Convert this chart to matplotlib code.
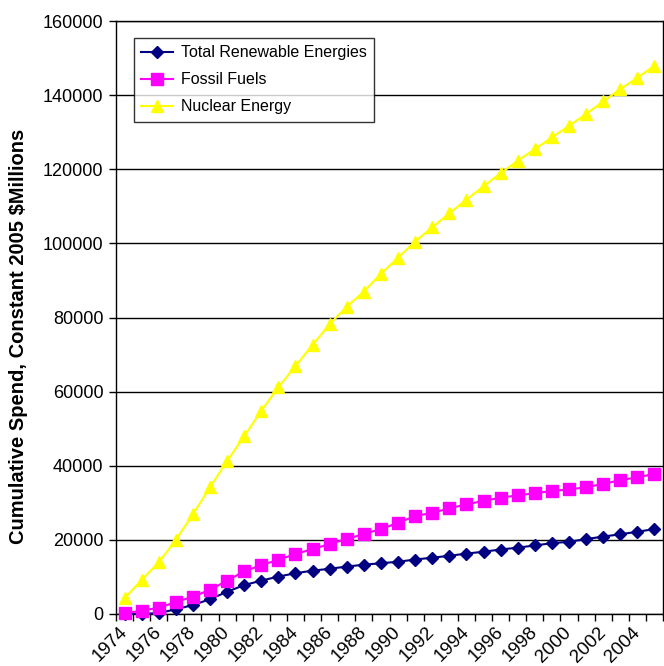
import matplotlib
matplotlib.use('Agg')
import matplotlib.pyplot as plt
import matplotlib.transforms as mtransforms
import numpy as np

plt.rcParams['font.family'] = ['Liberation Sans', 'DejaVu Sans']

years = list(range(1974, 2006))

# cumulative spend, constant 2005 $ millions
renewables = [0, 100, 200, 1300, 2400, 4000, 6000, 7800, 9000, 10100,
              11000, 11700, 12200, 12800, 13300, 13700, 14100, 14700, 15200, 15700,
              16300, 16800, 17400, 17900, 18500, 19100, 19500, 20200, 20900, 21500,
              22200, 22900]
fossil = [200, 900, 1700, 3200, 4700, 6500, 9000, 11500, 13200, 14600,
          16200, 17500, 18900, 20200, 21600, 22900, 24600, 26400, 27300, 28500,
          29600, 30500, 31400, 32000, 32600, 33200, 33600, 34200, 35100, 36100,
          36900, 37800]
nuclear = [4200, 9200, 13900, 20000, 26900, 34200, 41300, 48000, 54800, 61200,
           66900, 72600, 78200, 82900, 87000, 91800, 96100, 100500, 104300, 108100,
           111800, 115400, 118900, 122300, 125400, 128600, 131700, 134900, 138300, 141600,
           144700, 147900]

y_ticks = list(range(0, 160001, 20000))

fig = plt.figure(figsize=(6.64, 6.66), dpi=100)
ax = fig.add_axes([116 / 664, 52 / 666, 547 / 664, 593 / 666])

x = np.arange(len(years))
ax.plot(x, renewables, color='#000080', marker='D', markersize=6.5, lw=1.5,
        label='Total Renewable Energies', clip_on=False, zorder=3)
ax.plot(x, fossil, color='#FF00FF', marker='s', markersize=8, lw=1.5,
        label='Fossil Fuels', clip_on=False, zorder=3)
ax.plot(x, nuclear, color='#FFFF00', marker='^', markersize=8.5, lw=1.5,
        label='Nuclear Energy', clip_on=False, zorder=3)

ax.set_xlim(-0.5, len(years) - 0.5)
ax.set_ylim(0, 160000)
ax.set_yticks(y_ticks)
ax.set_yticklabels([str(v) for v in y_ticks], fontsize=13)
ax.yaxis.grid(True, color='black', lw=1)
ax.set_axisbelow(True)

ax.set_xticks(x[::2])
ax.set_xticklabels([str(y) for y in years[::2]], rotation=45, ha='right', va='top',
                   rotation_mode='anchor', fontsize=13.5)
ax.set_xticks(np.arange(-0.5, len(years)), minor=True)
ax.tick_params(axis='x', which='major', length=0, pad=7)
ax.tick_params(axis='x', which='minor', length=5, width=1, direction='out')
ax.tick_params(axis='y', length=5, width=1, direction='out', pad=4)

# nudge the slanted year labels left so they sit under their tick
shift = mtransforms.ScaledTranslation(-6 / 100, 0, fig.dpi_scale_trans)
for lbl in ax.get_xticklabels():
    lbl.set_transform(lbl.get_transform() + shift)

for side in ['left', 'bottom', 'right', 'top']:
    ax.spines[side].set_color('black')
    ax.spines[side].set_linewidth(1)

ax.set_ylabel('Cumulative Spend, Constant 2005 $Millions', fontsize=14.5,
              fontweight='bold')
ax.yaxis.set_label_coords(-0.16, 0.469)

leg = ax.legend(loc='upper left', bbox_to_anchor=(0.033, 0.971), borderaxespad=0,
                fontsize=11.5, frameon=True, fancybox=False, edgecolor='black',
                borderpad=0.45, handlelength=2.0, handletextpad=0.5, labelspacing=0.75)
leg.get_frame().set_linewidth(1)

fig.savefig('out.png', dpi=100)
